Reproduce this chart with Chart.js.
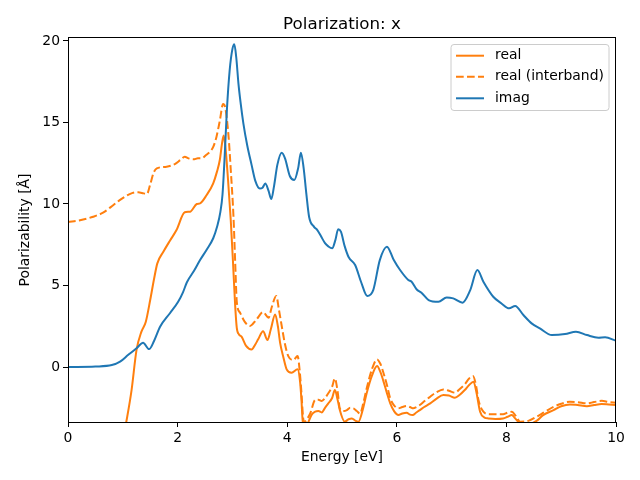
<!DOCTYPE html>
<html>
<head>
<meta charset="utf-8">
<script src="https://cdn.jsdelivr.net/npm/chart.js@4/dist/chart.umd.min.js"></script>
<style>html,body{margin:0;padding:0;background:#fff;}canvas{display:block;}</style>
</head>
<body>
<canvas id="c" width="640" height="480"></canvas>
<script>
const chartTitle = 'Polarization: x';
const xTicks = [0, 2, 4, 6, 8, 10];
const yTicks = [0, 5, 10, 15, 20];
const seriesLabels = ['real', 'real (interband)', 'imag'];

const realX = [0.7,0.85,0.95,1.0,1.07,1.16,1.25,1.34,1.42,1.5,1.57,1.63,1.74,1.86,1.98,2.13,2.23,2.35,2.41,2.53,2.65,2.72,2.77,2.81,2.84,2.87,2.92,2.97,3.01,3.05,3.08,3.12,3.17,3.25,3.35,3.42,3.47,3.56,3.64,3.7,3.78,3.83,3.87,3.93,3.99,4.08,4.19,4.23,4.26,4.28,4.33,4.39,4.45,4.51,4.57,4.63,4.69,4.75,4.82,4.87,4.92,4.96,5.05,5.12,5.18,5.25,5.3,5.38,5.45,5.55,5.64,5.7,5.75,5.82,5.88,5.95,6.03,6.1,6.18,6.23,6.29,6.35,6.42,6.5,6.61,6.72,6.85,6.95,7.06,7.15,7.24,7.32,7.4,7.45,7.52,7.6,7.67,7.8,7.94,8.02,8.1,8.16,8.25,8.4,8.55,8.67,8.86,9.0,9.16,9.3,9.47,9.6,9.74,9.87,10.0];
const realY = [-14,-8.5,-5.6,-4.5,-3.25,-1.41,1.04,2.17,2.78,4.11,5.4,6.36,7.07,7.75,8.4,9.49,9.53,10.0,10.04,10.55,11.27,12.0,12.7,13.7,14.2,13.6,11.5,9.0,6.5,3.8,2.4,2.0,1.85,1.3,1.08,1.4,1.7,2.2,1.66,2.3,3.23,2.5,1.5,0.6,-0.14,-0.35,-0.14,-0.76,-2.0,-3.2,-3.9,-3.35,-2.9,-2.74,-2.7,-2.78,-2.5,-2.23,-1.9,-1.41,-2.0,-2.64,-3.35,-3.2,-3.15,-3.3,-3.35,-2.6,-1.61,-0.5,0.06,-0.3,-0.8,-1.6,-2.23,-2.7,-2.94,-2.85,-2.8,-2.9,-2.94,-2.8,-2.64,-2.45,-2.23,-1.95,-1.72,-1.75,-1.88,-1.7,-1.41,-1.1,-0.9,-1.5,-2.74,-3.1,-3.15,-3.18,-3.15,-3.05,-2.94,-3.15,-3.45,-3.5,-3.3,-2.95,-2.64,-2.4,-2.29,-2.33,-2.4,-2.33,-2.27,-2.3,-2.33];

const interX = [0,0.22,0.46,0.64,0.83,0.95,1.07,1.18,1.28,1.38,1.44,1.5,1.56,1.62,1.8,1.95,2.05,2.13,2.2,2.29,2.37,2.44,2.52,2.59,2.65,2.71,2.77,2.83,2.87,2.93,2.97,3.02,3.05,3.08,3.14,3.22,3.32,3.44,3.56,3.66,3.72,3.8,3.85,3.9,3.96,4.02,4.11,4.19,4.23,4.26,4.29,4.31,4.36,4.42,4.51,4.57,4.63,4.69,4.75,4.82,4.87,4.92,4.96,5.03,5.09,5.15,5.21,5.27,5.33,5.39,5.45,5.55,5.64,5.7,5.75,5.82,5.88,5.95,6.03,6.1,6.18,6.24,6.3,6.36,6.42,6.5,6.61,6.72,6.85,6.95,7.06,7.15,7.24,7.32,7.39,7.45,7.49,7.58,7.7,7.94,8.02,8.1,8.17,8.25,8.4,8.55,8.7,8.86,9.0,9.16,9.3,9.47,9.6,9.74,9.87,10.0];
const interY = [8.9,9.0,9.22,9.47,9.94,10.25,10.51,10.68,10.72,10.65,10.61,11.2,11.9,12.18,12.29,12.45,12.7,12.9,12.8,12.74,12.8,12.8,13.0,13.2,13.5,14.13,15.1,16.13,15.9,14.13,12.1,9.2,6.5,4.0,3.33,2.8,2.52,2.92,3.37,3.03,3.7,4.36,3.5,2.52,1.4,0.67,0.43,0.67,-0.3,-1.58,-3.1,-3.4,-3.2,-2.85,-2.02,-2.0,-2.08,-1.9,-1.61,-1.2,-0.7,-1.5,-2.53,-2.7,-2.64,-2.5,-2.53,-2.7,-2.85,-2.2,-1.31,-0.1,0.47,0.2,-0.29,-1.1,-1.92,-2.35,-2.53,-2.45,-2.39,-2.45,-2.53,-2.45,-2.33,-2.1,-1.82,-1.55,-1.37,-1.45,-1.57,-1.35,-1.06,-0.7,-0.55,-1.2,-2.02,-2.74,-2.9,-2.9,-2.8,-2.74,-3.0,-3.35,-3.3,-3.05,-2.75,-2.44,-2.25,-2.13,-2.15,-2.23,-2.15,-2.07,-2.15,-2.19];

const imagX = [0,0.5,0.8,0.95,1.1,1.25,1.37,1.48,1.57,1.68,1.86,2.01,2.1,2.17,2.3,2.41,2.53,2.65,2.72,2.78,2.82,2.86,2.9,2.95,3.0,3.035,3.07,3.11,3.15,3.2,3.27,3.35,3.42,3.5,3.55,3.6,3.66,3.71,3.76,3.82,3.9,3.96,4.05,4.13,4.2,4.25,4.3,4.35,4.4,4.49,4.55,4.62,4.69,4.75,4.82,4.88,4.93,4.98,5.05,5.12,5.24,5.35,5.46,5.57,5.69,5.82,5.94,6.06,6.21,6.27,6.36,6.45,6.58,6.76,6.91,7.03,7.2,7.34,7.47,7.58,7.76,7.91,8.05,8.16,8.31,8.46,8.61,8.83,9.07,9.27,9.47,9.68,9.8,10.0];
const imagY = [0,0.03,0.12,0.33,0.75,1.15,1.49,1.1,1.6,2.47,3.3,4.0,4.6,5.2,5.9,6.56,7.2,7.9,8.6,9.5,10.6,13.0,15.8,18.2,19.5,19.8,19.0,17.4,16.2,14.95,13.6,12.4,11.4,10.95,11.0,11.25,10.8,10.3,11.1,12.4,13.15,12.8,11.7,11.47,12.2,13.15,12.2,10.6,9.2,8.6,8.4,8.0,7.6,7.4,7.28,7.8,8.45,8.3,7.4,6.75,6.26,5.2,4.36,4.72,6.56,7.38,6.6,5.95,5.34,5.23,4.77,4.56,4.11,4.0,4.27,4.21,3.95,4.72,5.95,5.23,4.31,3.9,3.6,3.74,3.19,2.68,2.37,1.96,2.02,2.17,1.96,1.80,1.82,1.61];

const ORANGE = '#ff7f0e', BLUE = '#1f77b4';
const FONT = 'DejaVu Sans';
const toPts = (xs, ys) => xs.map((x, i) => ({x: x, y: ys[i]}));

const framePlugin = {
  id: 'frame',
  afterDraw(chart) {
    const {ctx, chartArea: a} = chart;
    ctx.save();
    // title centred over the plot area
    ctx.fillStyle = '#000';
    ctx.font = '16.7px "' + FONT + '"';
    ctx.textAlign = 'center';
    ctx.textBaseline = 'alphabetic';
    ctx.fillText(chartTitle, (a.left + a.right) / 2, 28.6);
    // axes frame
    ctx.strokeStyle = '#000';
    ctx.lineWidth = 1;
    ctx.strokeRect(Math.round(a.left) + 0.5, Math.round(a.top) - 0.5, Math.round(a.right - a.left) - 1, Math.round(a.bottom - a.top) + 1);
    // legend
    const bx = 451, by = 44.5, bw = 158, bh = 66, r = 3;
    ctx.beginPath();
    ctx.moveTo(bx + r, by);
    ctx.lineTo(bx + bw - r, by); ctx.quadraticCurveTo(bx + bw, by, bx + bw, by + r);
    ctx.lineTo(bx + bw, by + bh - r); ctx.quadraticCurveTo(bx + bw, by + bh, bx + bw - r, by + bh);
    ctx.lineTo(bx + r, by + bh); ctx.quadraticCurveTo(bx, by + bh, bx, by + bh - r);
    ctx.lineTo(bx, by + r); ctx.quadraticCurveTo(bx, by, bx + r, by);
    ctx.closePath();
    ctx.fillStyle = 'rgba(255,255,255,0.8)';
    ctx.fill();
    ctx.strokeStyle = '#cccccc';
    ctx.stroke();
    const rows = [55.7, 76.7, 98.3];
    chart.data.datasets.forEach((ds, i) => {
      const y = rows[i];
      ctx.beginPath();
      ctx.strokeStyle = ds.borderColor;
      ctx.lineWidth = ds.borderWidth;
      ctx.setLineDash(ds.borderDash || []);
      ctx.moveTo(456, y); ctx.lineTo(484, y);
      ctx.stroke();
      ctx.setLineDash([]);
      ctx.fillStyle = '#000';
      ctx.font = '13.9px "' + FONT + '"';
      ctx.textBaseline = 'middle';
      ctx.textAlign = 'left';
      ctx.fillText(ds.label, 495, y);
    });
    ctx.restore();
  }
};

new Chart(document.getElementById('c'), {
  type: 'line',
  data: {
    datasets: [
      {label: seriesLabels[0], data: toPts(realX, realY), borderColor: ORANGE, borderWidth: 2, pointRadius: 0, cubicInterpolationMode: 'monotone', fill: false, order: 2},
      {label: seriesLabels[1], data: toPts(interX, interY), borderColor: ORANGE, borderWidth: 2, borderDash: [7.7, 3.3], pointRadius: 0, cubicInterpolationMode: 'monotone', fill: false, order: 1},
      {label: seriesLabels[2], data: toPts(imagX, imagY), borderColor: BLUE, borderWidth: 2, pointRadius: 0, cubicInterpolationMode: 'monotone', fill: false, order: 0}
    ]
  },
  options: {
    responsive: false,
    animation: false,
    devicePixelRatio: 1,
    layout: {padding: {left: 0, right: 24, top: 38, bottom: 0}},
    plugins: {
      legend: {display: false},
      tooltip: {enabled: false},
      title: {display: false}
    },
    scales: {
      x: {
        type: 'linear', min: 0, max: 10,
        afterBuildTicks: s => { s.ticks = xTicks.map(v => ({value: v})); },
        afterFit: s => { s.height = 58; },
        ticks: {color: '#000', font: {family: FONT, size: 13.9}, padding: 3, maxRotation: 0, callback: v => String(v)},
        grid: {display: true, drawOnChartArea: false, drawTicks: true, tickLength: 5, color: '#000'},
        border: {display: false},
        title: {display: true, text: 'Energy [eV]', color: '#000', font: {family: FONT, size: 13.9}, padding: {top: 0, bottom: 14.5}}
      },
      y: {
        type: 'linear', min: -3.37, max: 20.18,
        afterBuildTicks: s => { s.ticks = yTicks.map(v => ({value: v})); },
        afterFit: s => { s.width = 68; },
        ticks: {color: '#000', font: {family: FONT, size: 13.9}, padding: 3, callback: v => String(v)},
        grid: {display: true, drawOnChartArea: false, drawTicks: true, tickLength: 5, color: '#000'},
        border: {display: false},
        title: {display: true, text: 'Polarizability [Å]', color: '#000', font: {family: FONT, size: 13.9}, padding: {top: 17, bottom: 0}}
      }
    }
  },
  plugins: [framePlugin]
});
</script>
</body>
</html>
